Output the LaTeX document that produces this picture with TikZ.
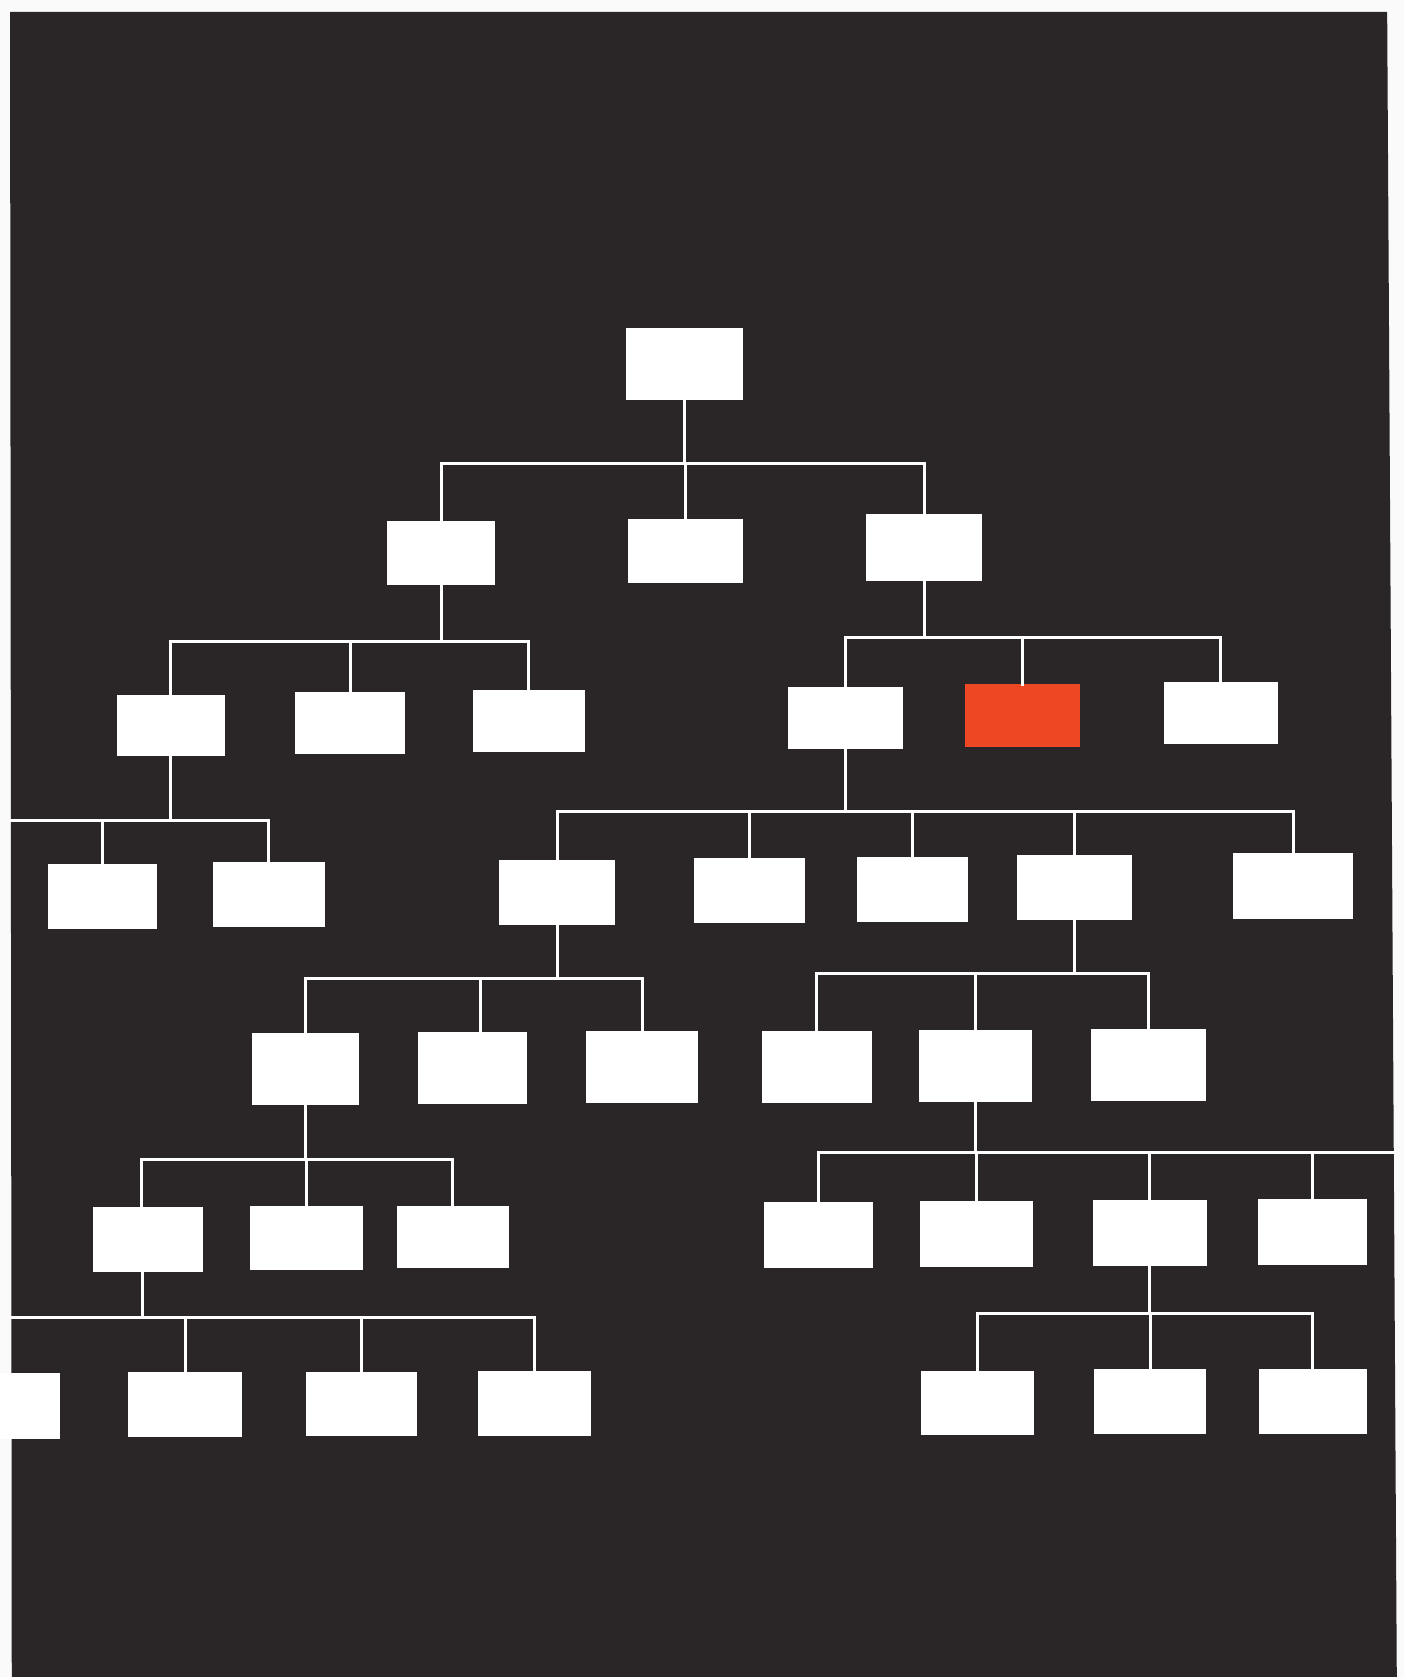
\documentclass[tikz,border=0pt]{standalone}
\usepackage{tikz}
\definecolor{ink}{RGB}{42,37,38}
\definecolor{flame}{RGB}{237,72,35}
\definecolor{paper}{RGB}{250,250,250}

\begin{document}
\begin{tikzpicture}[
    x=1pt, y=-1pt,
    box/.style={fill=white, inner sep=0pt, minimum width=104pt, minimum height=61pt},
    wire/.style={draw=white, line width=2.8pt, line cap=rect}
]
% sheet and dark panel
\useasboundingbox (0,0) rectangle (1313,1568);
\fill[paper] (0,0) rectangle (1313,1568);
\fill[ink] (9.4,11.2) -- (1297,11) -- (1306,1568) -- (11,1568) -- cycle;
\coordinate (edgeL) at (10,0);
\coordinate (edgeR) at (1303,0);

% level 0 and 1
\node[box, minimum width=110pt, minimum height=67pt] (root) at (640,340.5) {};
\node[box, minimum width=101pt, minimum height=60pt] (A) at (412.5,517) {};
\node[box, minimum width=108pt, minimum height=60pt] (B) at (641,515) {};
\node[box, minimum width=108pt, minimum height=62pt] (C) at (864,512) {};

% level 2
\node[box, minimum width=101pt, minimum height=57pt] (A1) at (159.5,678.5) {};
\node[box, minimum width=103pt, minimum height=58pt] (A2) at (327.5,676) {};
\node[box, minimum width=105pt, minimum height=58pt] (A3) at (494.5,674) {};
\node[box, minimum width=107pt, minimum height=58pt] (C1) at (790.5,671) {};
\node[box, minimum width=108pt, minimum height=58pt, fill=flame] (C2) at (956,669) {};
\node[box, minimum width=107pt, minimum height=58pt] (C3) at (1141.5,667) {};

% level 3
\node[box, minimum width=102pt] (A1a) at (96,838) {};
\node[box, minimum width=105pt] (A1b) at (251.5,836.5) {};
\node[box, minimum width=108pt] (C1a) at (521,834.5) {};
\node[box] (C1b) at (701,832.5) {};
\node[box] (C1c) at (853,831.5) {};
\node[box, minimum width=107pt] (C1d) at (1004.5,829.5) {};
\node[box, minimum width=112pt] (C1e) at (1209,828.5) {};

% level 4
\node[box, minimum width=100pt, minimum height=67pt] (C1a1) at (286,999.5) {};
\node[box, minimum width=102pt, minimum height=67pt] (C1a2) at (442,998.5) {};
\node[box, minimum width=105pt, minimum height=67pt] (C1a3) at (600.5,997.5) {};
\node[box, minimum width=103pt, minimum height=67pt] (C1d1) at (763.5,997.5) {};
\node[box, minimum width=106pt, minimum height=67pt] (C1d2) at (912,996.5) {};
\node[box, minimum width=108pt, minimum height=67pt] (C1d3) at (1074,995.5) {};

% level 5
\node[box, minimum width=103pt, minimum height=60pt] (L1) at (138.5,1159) {};
\node[box, minimum width=105pt, minimum height=59pt] (L2) at (286.5,1157.5) {};
\node[box, minimum width=105pt, minimum height=58pt] (L3) at (423.5,1157) {};
\node[box, minimum width=102pt, minimum height=62pt] (R1) at (765,1155) {};
\node[box, minimum width=106pt, minimum height=62pt] (R2) at (913,1154) {};
\node[box, minimum width=107pt, minimum height=62pt] (R3) at (1075,1153) {};
\node[box, minimum width=102pt, minimum height=62pt] (R4) at (1227,1152) {};

% level 6
\node[box, minimum width=56pt] (LL0) at (28,1314.5) {};
\node[box, minimum width=106pt] (LL1) at (173,1313.5) {};
\node[box, minimum height=60pt] (LL2) at (338,1313) {};
\node[box, minimum width=106pt] (LL3) at (500,1312.5) {};
\node[box, minimum width=106pt, minimum height=60pt] (RR1) at (914,1312) {};
\node[box, minimum width=105pt] (RR2) at (1075.5,1310.5) {};
\node[box, minimum width=101pt] (RR3) at (1227.5,1310.5) {};

% off-centre taps
\coordinate (C1a2in) at ([xshift=7pt]C1a2.north);
\coordinate (L1in) at ([xshift=-6pt]L1.north);
\coordinate (L1out) at ([xshift=-5pt]L1.south);

% connectors: parent tap / bus y / bus ends / child taps
\foreach \p/\yb/\l/\r/\kids in {
    root.south/433/A/C/{A.north,B.north,C.north},
    A.south/600/A1/A3/{A1.north,A2.north,A3.north},
    C.south/596/C1/C3/{C1.north,C2.north,C3.north},
    A1.south/767/edgeL/A1b/{A1a.north,A1b.north},
    C1.south/759/C1a/C1e/{C1a.north,C1b.north,C1c.north,C1d.north,C1e.north},
    C1a.south/915/C1a1/C1a3/{C1a1.north,C1a2in,C1a3.north},
    C1d.south/910/C1d1/C1d3/{C1d1.north,C1d2.north,C1d3.north},
    C1a1.south/1084/L1in/L3/{L1in,L2.north,L3.north},
    C1d2.south/1078/R1/edgeR/{R1.north,R2.north,R3.north,R4.north},
    L1out/1232/edgeL/LL3/{LL1.north,LL2.north,LL3.north},
    R3.south/1228/RR1/RR3/{RR1.north,RR2.north,RR3.north}}{
  \draw[wire] (\p) -- (\p |- 0,\yb);
  \draw[wire] (\l |- 0,\yb) -- (\r |- 0,\yb);
  \foreach \c in \kids
    \draw[wire] (\c) -- (\c |- 0,\yb);
}
\end{tikzpicture}
\end{document}
